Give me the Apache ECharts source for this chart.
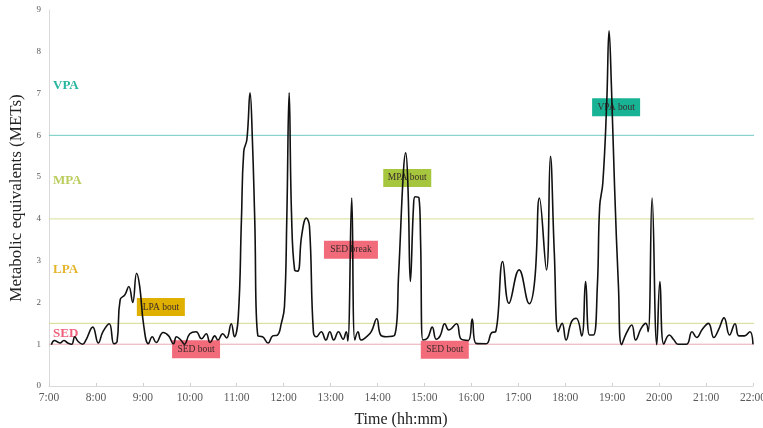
<!DOCTYPE html>
<html>
<head>
<meta charset="utf-8">
<script src="https://cdn.jsdelivr.net/npm/echarts@6/dist/echarts.min.js"></script>
<style>
html,body{margin:0;padding:0;background:#fff;overflow:hidden;}
#chart{width:763px;height:428px;}
</style>
</head>
<body>
<div id="chart"></div>
<script>
// Time of day (hh:mm) of each reading
const times = ['7:03','7:07','7:14','7:19','7:24','7:29','7:33','7:37','7:43','7:47','7:56',
'8:03','8:09','8:17','8:23','8:27','8:31','8:37','8:42','8:47','8:52','8:56',
'9:01','9:07','9:12','9:17','9:26','9:33','9:39','9:43','9:49','9:53',
'10:00','10:08','10:15','10:21','10:26','10:32','10:36','10:42','10:47','10:53','10:57',
'11:02','11:06','11:09','11:13','11:17','11:20','11:23','11:27','11:33','11:40','11:46','11:52','11:57',
'12:01','12:04','12:07','12:10','12:14','12:18','12:23','12:29','12:33','12:38','12:42','12:48','12:54','12:59',
'13:04','13:10','13:16','13:20','13:22','13:27','13:31','13:35','13:39','13:46','13:52','13:59',
'14:04','14:11','14:22','14:27','14:33','14:36','14:39','14:42','14:46','14:48','14:53','14:55','14:58',
'15:04','15:10','15:15','15:20','15:26','15:31','15:41','15:47','15:56',
'16:01','16:06','16:19','16:26','16:31','16:40','16:48',
'17:01','17:14','17:21','17:27','17:36','17:41','17:46','17:51','17:56',
'18:01','18:08','18:14','18:21','18:26','18:31','18:36','18:41','18:44','18:48','18:53','18:56','18:59',
'19:03','19:08','19:12','19:18','19:25','19:30','19:37','19:43','19:46','19:51','19:57',
'20:01','20:06','20:13','20:19','20:24','20:35','20:42','20:48','20:55',
'21:03','21:10','21:16','21:23','21:30','21:37','21:42','21:49','21:56','22:00'];
// Metabolic equivalents at each time
const mets = [0.99,1.09,1.03,1.09,1.03,1.0,1.18,1.07,1.0,1.09,1.41,
1.03,1.30,1.49,1.01,1.06,2.07,2.18,2.38,2.0,2.70,2.38,
1.46,1.01,1.18,1.04,1.28,1.2,1.01,1.18,1.09,1.0,
1.25,1.30,1.13,1.25,1.04,1.2,1.1,1.25,1.15,1.49,1.18,
1.66,3.98,5.62,5.9,7.02,5.9,4.0,1.2,1.18,1.03,1.2,1.22,1.5,
1.9,4.0,7.02,4.15,2.78,2.75,3.6,4.02,3.82,1.3,1.18,1.3,1.1,1.3,
1.1,1.3,1.12,1.3,1.08,4.5,1.1,1.3,1.1,1.18,1.3,1.61,
1.22,1.18,1.22,2.7,5.1,5.58,4.7,2.5,4.3,4.53,4.5,3.5,1.1,
1.15,1.41,1.12,1.2,1.49,1.34,1.49,1.12,1.09,
1.6,1.02,1.01,1.28,1.3,2.98,1.98,
2.78,1.97,2.54,4.5,2.78,5.5,3.18,1.3,1.5,
1.1,1.54,1.62,1.2,2.5,1.22,1.22,2.38,4.3,4.86,6.78,8.5,7.18,
4.78,2.38,0.99,1.26,1.46,1.1,1.38,1.5,1.3,4.5,0.99,
2.5,1.0,1.22,1.1,1.0,1.0,1.3,1.16,1.35,
1.5,1.16,1.35,1.63,1.22,1.49,1.2,1.2,1.3,1.0];

// Intensity thresholds (METs)
const thresholdValues = [6, 4, 1.5, 1];
const thresholdColors = ['#6fcbc1', '#d9e09a', '#d6da8c', '#eba8b2'];

// Zone labels
const zoneNames = ['VPA', 'MPA', 'LPA', 'SED'];
const zoneLabelY = [7.2, 4.91, 2.78, 1.245];
const zoneColors = ['#27b5a0', '#b9cd5c', '#e4b52c', '#f0607a'];

// Bout annotations
const boutNames = ['LPA bout', 'SED bout', 'SED break', 'MPA bout', 'SED bout', 'VPA bout'];
const boutTimes = ['9:23', '10:08', '13:26', '14:38', '15:26', '19:05'];
const boutY = [1.89, 0.88, 3.26, 4.98, 0.87, 6.67];
const boutColors = ['#dfb000', '#f26b7a', '#f26b7a', '#a6c63e', '#f26b7a', '#18b294'];

const toHour = s => { const p = s.split(':'); return +p[0] + (+p[1]) / 60; };
const seriesData = times.map((t, i) => [toHour(t), mets[i]]);

const FONT = '"Liberation Serif", "Times New Roman", serif';

const thresholdSeries = thresholdValues.map((v, i) => ({
  type: 'line',
  silent: true,
  data: [[7, v], [22.08, v]],
  showSymbol: false,
  symbol: 'none',
  clip: false,
  lineStyle: {color: thresholdColors[i], width: 1},
  z: 1
}));

const chart = echarts.init(document.getElementById('chart'), null, {renderer: 'canvas', width: 763, height: 428});
chart.setOption({
  animation: false,
  backgroundColor: '#fff',
  textStyle: {fontFamily: FONT},
  grid: {left: 49, right: 10, top: 10, bottom: 42, containLabel: false, outerBoundsMode: 'none'},
  xAxis: {
    type: 'value', min: 7, max: 22, interval: 1,
    name: 'Time (hh:mm)', nameLocation: 'middle', nameGap: 26,
    nameTextStyle: {fontFamily: FONT, fontSize: 16, color: '#222'},
    axisLine: {show: true, lineStyle: {color: '#d9d9d9', width: 1}},
    axisTick: {show: true, inside: true, length: 3, lineStyle: {color: '#d0d0d0'}},
    splitLine: {show: false},
    axisLabel: {formatter: v => v + ':00', fontFamily: FONT, fontSize: 11.5, color: '#595959', margin: 6}
  },
  yAxis: {
    type: 'value', min: 0, max: 9, interval: 1,
    name: 'Metabolic equivalents (METs)', nameLocation: 'middle', nameGap: 24,
    nameTextStyle: {fontFamily: FONT, fontSize: 17, color: '#222'},
    axisLine: {show: true, lineStyle: {color: '#d9d9d9', width: 1}},
    axisTick: {show: false},
    splitLine: {show: false},
    axisLabel: {fontFamily: FONT, fontSize: 9, color: '#595959', margin: 8}
  },
  series: thresholdSeries.concat([
    {
      type: 'line',
      data: seriesData,
      smooth: 0.45,
      showSymbol: false,
      symbol: 'none',
      lineStyle: {color: '#111', width: 1.6},
      z: 5,
      markPoint: {
        silent: true,
        data: boutNames.map((n, i) => ({
          coord: [toHour(boutTimes[i]), boutY[i]],
          symbol: 'rect',
          symbolSize: [n === 'SED break' ? 54 : 48, 18],
          itemStyle: {color: boutColors[i]},
          label: {show: true, formatter: n, position: 'inside', color: '#3a2a2a', fontFamily: FONT, fontSize: 9.5}
        })).concat(zoneNames.map((n, i) => ({
          coord: [7, zoneLabelY[i]],
          symbol: 'circle',
          symbolSize: 0,
          label: {show: true, formatter: n, position: 'right', distance: 4, color: zoneColors[i], fontFamily: FONT, fontSize: 13, fontWeight: 'bold'}
        })))
      }
    }
  ])
});
</script>
</body>
</html>
